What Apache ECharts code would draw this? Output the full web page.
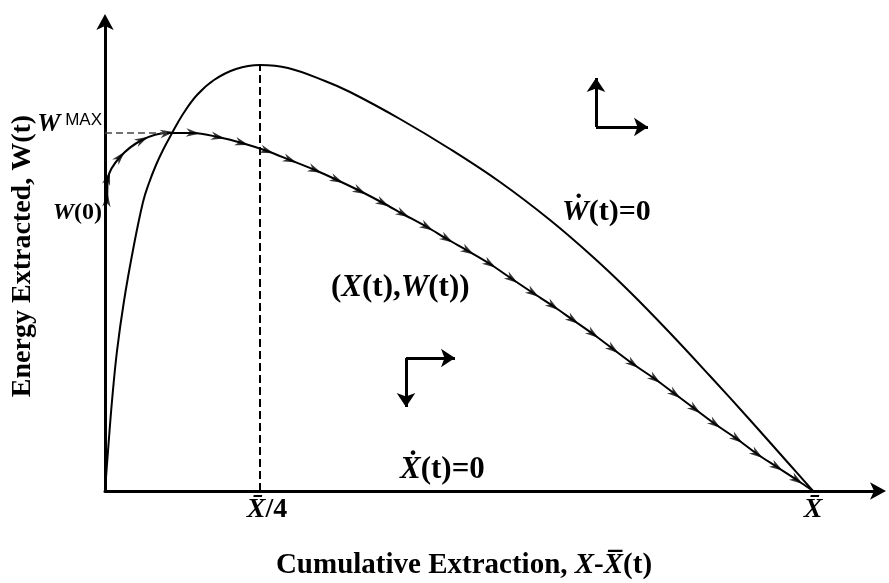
<!DOCTYPE html>
<html>
<head>
<meta charset="utf-8">
<script src="https://cdn.jsdelivr.net/npm/echarts@6/dist/echarts.min.js"></script>
<style>
html, body { margin: 0; padding: 0; background: #fff; }
#show_picture { width: 889px; height: 583px; }
</style>
</head>
<body>
<div id="show_picture"></div>
<script>
// plot units: origin at the axes corner, 1 unit ~ 1 px
const xBar = 708;       // X̄
const xQuarter = 155;   // X̄/4
const wMax = 358;       // W^MAX
const w0 = 282;         // W(0)
const wPeak = 426;      // top of the W-dot = 0 curve

// W-dot(t) = 0 curve
const nullX = [0, 3, 7, 12, 19, 28, 38, 44, 51, 58, 66, 78, 92, 109, 131, 155, 183, 220, 245, 295, 345, 395, 445, 488, 525, 565, 605, 645, 685, 708];
const nullW = [0, 40, 90, 140, 190, 241, 289, 308, 326, 341, 356, 377, 396, 411, 422, 426, 423, 410, 399, 372, 342, 309, 271, 234, 199, 158, 115, 71, 26, 0];

// optimal path (X(t), W(t)), one point per arrow head
const pathX = [0, 2, 3, 15, 37, 62, 88, 113, 137, 162, 185, 210, 232, 255, 278, 298, 322, 342, 363, 385, 407, 428, 448, 468, 488, 508, 528, 550, 570, 590, 610, 632, 652, 672, 692, 708];
const pathW = [w0, 291, 313, 334, 351, 358, 358, 354, 348, 340, 331, 321, 311, 300, 288, 277, 264, 252, 240, 227, 212, 198, 185, 171, 157, 142, 127, 112, 97, 82, 67, 52, 37, 24, 11, 0];

// tick labels
const xTickValues = [xQuarter, xBar];
const xTickLabels = ['X\u0304|/4', 'X\u0304|'];
const yTickValues = [wMax, w0];
const yTickLabels = ['max', 'w0'];

let show_picture = document.getElementById('show_picture');
let myChart = echarts.init(show_picture);
let option;

const serif = 'Liberation Serif';

function pts(xs, ys) {
    return xs.map((x, i) => [x, ys[i]]);
}

option = {
    animation: false,
    grid: { left: 105, right: 9, top: 20, bottom: 92 },
    xAxis: {
        type: 'value', min: 0, max: 775,
        splitLine: { show: false },
        axisTick: { show: false },
        axisLine: {
            onZero: false,
            symbol: ['none', 'arrow'], symbolSize: [13, 16], symbolOffset: [0, 6],
            lineStyle: { color: '#000', width: 3 }
        },
        axisLabel: {
            customValues: xTickValues,
            margin: 5,
            formatter: function (v) {
                let s = xTickLabels[xTickValues.indexOf(v)].split('|');
                if (s[1]) return '{p|}{i|' + s[0] + '}{n|' + s[1] + '}';
                return '{i|' + s[0] + '}';
            },
            rich: {
                p: { width: 14 },
                i: { fontFamily: serif, fontWeight: 'bold', fontStyle: 'italic', fontSize: 28, color: '#000' },
                n: { fontFamily: serif, fontWeight: 'bold', fontSize: 28, color: '#000' }
            }
        }
    },
    yAxis: {
        type: 'value', min: 0, max: 471,
        splitLine: { show: false },
        axisTick: { show: false },
        axisLine: {
            onZero: false,
            symbol: ['none', 'arrow'], symbolSize: [13, 16], symbolOffset: [0, 6],
            lineStyle: { color: '#000', width: 3 }
        },
        axisLabel: {
            customValues: yTickValues,
            margin: 3,
            formatter: function (v) {
                let k = yTickLabels[yTickValues.indexOf(v)];
                if (k === 'max') return '{w|W}{m| MAX}';
                return '{a|W}{b|(0)}';
            },
            rich: {
                w: { fontFamily: serif, fontWeight: 'bold', fontStyle: 'italic', fontSize: 26, color: '#000', padding: [0, 0, 18, 0] },
                m: { fontFamily: 'Liberation Sans', fontSize: 17, color: '#000', padding: [0, 0, 26, 0] },
                a: { fontFamily: serif, fontWeight: 'bold', fontStyle: 'italic', fontSize: 24, color: '#000', padding: [8, 0, 0, 0] },
                b: { fontFamily: serif, fontWeight: 'bold', fontSize: 24, color: '#000', padding: [8, 0, 0, 0] }
            }
        }
    },
    graphic: [
        {
            type: 'text', x: 23, y: 256, rotation: Math.PI / 2,
            style: {
                text: 'Energy Extracted, W(t)', align: 'center', verticalAlign: 'middle',
                font: 'bold 28px "Liberation Serif"', fill: '#000'
            }
        },
        {
            type: 'text', x: 464, y: 566,
            style: {
                text: '{n|Cumulative Extraction, }{i|X}{n|-}{i|X\u0305}{n|(t)}', align: 'center', verticalAlign: 'middle',
                rich: {
                    n: { fontFamily: serif, fontWeight: 'bold', fontSize: 29, fill: '#000' },
                    i: { fontFamily: serif, fontWeight: 'bold', fontStyle: 'italic', fontSize: 29, fill: '#000' }
                }
            }
        },
        {
            type: 'text', x: 562, y: 212,
            style: {
                text: '{i|W\u0307}{n|(t)=0}', verticalAlign: 'middle',
                rich: {
                    n: { fontFamily: serif, fontWeight: 'bold', fontSize: 30, fill: '#000' },
                    i: { fontFamily: serif, fontWeight: 'bold', fontStyle: 'italic', fontSize: 30, fill: '#000' }
                }
            }
        },
        {
            type: 'text', x: 331, y: 288,
            style: {
                text: '{n|(}{i|X}{n|(t),}{i|W}{n|(t))}', verticalAlign: 'middle',
                rich: {
                    n: { fontFamily: serif, fontWeight: 'bold', fontSize: 31, fill: '#000' },
                    i: { fontFamily: serif, fontWeight: 'bold', fontStyle: 'italic', fontSize: 31, fill: '#000' }
                }
            }
        },
        {
            type: 'text', x: 400, y: 470,
            style: {
                text: '{i|X\u0307}{n|(t)=0}', verticalAlign: 'middle',
                rich: {
                    n: { fontFamily: serif, fontWeight: 'bold', fontSize: 31, fill: '#000' },
                    i: { fontFamily: serif, fontWeight: 'bold', fontStyle: 'italic', fontSize: 31, fill: '#000' }
                }
            }
        }
    ],
    series: [
        {
            type: 'line', data: pts(nullX, nullW), smooth: 0.4,
            showSymbol: false, lineStyle: { color: '#000', width: 2 }
        },
        {
            type: 'line', data: pts(pathX, pathW), smooth: 0.3,
            showSymbol: false, lineStyle: { color: '#000', width: 2 }
        },
        {
            type: 'line', data: [[0, wMax], [pathX[5], wMax]],
            showSymbol: false, lineStyle: { color: '#444', width: 1.5, type: [7, 4] }
        },
        {
            type: 'line', data: [[xQuarter, 0], [xQuarter, wPeak]],
            showSymbol: false, lineStyle: { color: '#000', width: 2, type: [8, 4] }
        },
        {
            // direction arrows
            type: 'lines', coordinateSystem: 'cartesian2d',
            symbol: ['none', 'arrow'], symbolSize: 14,
            lineStyle: { color: '#000', width: 3, opacity: 1 },
            data: [
                { coords: [[491, 364], [491, 413]] },
                { coords: [[491, 364], [543, 364]] },
                { coords: [[301, 133], [350, 133]] },
                { coords: [[301, 133], [301, 84]] }
            ]
        },
        {
            id: 'heads', type: 'scatter',
            symbol: 'path://M0,0 L13,5 L0,10 L4,5 Z',
            symbolSize: [14, 11], symbolKeepAspect: true,
            itemStyle: { color: '#000' },
            data: []
        }
    ]
};

option && myChart.setOption(option);

// arrow heads along the path, pointed along the local direction
let heads = [];
for (let i = 1; i < pathX.length - 1; i++) {
    let a = myChart.convertToPixel({ gridIndex: 0 }, [pathX[i - 1], pathW[i - 1]]);
    let b = myChart.convertToPixel({ gridIndex: 0 }, [pathX[i + 1], pathW[i + 1]]);
    let ang = Math.atan2(-(b[1] - a[1]), b[0] - a[0]) * 180 / Math.PI;
    heads.push({ value: [pathX[i], pathW[i]], symbolRotate: ang });
}
myChart.setOption({ series: [{ id: 'heads', data: heads }] });
</script>
</body>
</html>
